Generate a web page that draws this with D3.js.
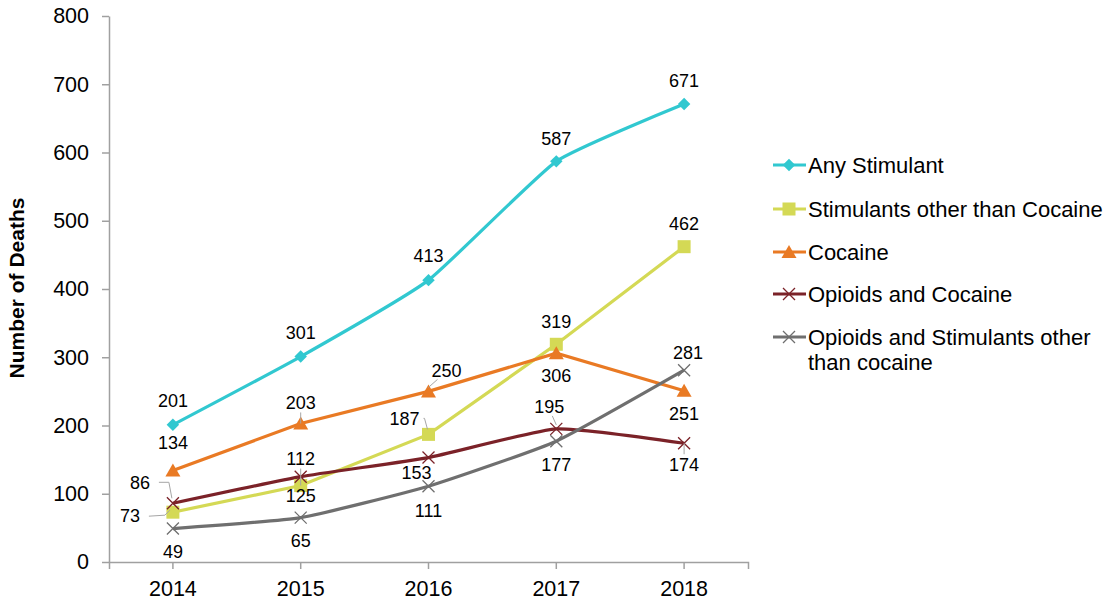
<!DOCTYPE html>
<html lang="en">
	<head>
		<meta charset="utf-8">
		<title>Stimulant deaths 2014-2018</title>
		<script type="text/javascript" src="https://d3js.org/d3.v7.min.js"></script>
		<style type="text/css">
			body { margin: 0; background: #fff; }
			svg text { font-family: "Liberation Sans", Arial, sans-serif; fill: #000; }
		</style>
	</head>
	<body>
		<script type="text/javascript">

			// data
			var years = ["2014", "2015", "2016", "2017", "2018"];
			var yTicks = [0, 100, 200, 300, 400, 500, 600, 700, 800];
			var seriesNames = ["Any Stimulant", "Stimulants other than Cocaine", "Cocaine",
				"Opioids and Cocaine", "Opioids and Stimulants other than cocaine"];
			var anyStimulant = [201, 301, 413, 587, 671];
			var stimNotCocaine = [73, 112, 187, 319, 462];
			var cocaine = [134, 203, 250, 306, 251];
			var opioidsCocaine = [86, 125, 153, 195, 174];
			var opioidsStimNotCocaine = [49, 65, 111, 177, 281];

			var w = 1110;
			var h = 601;

			// label placement (text centre offset from point) + optional leader
			var labelPos = [
				[[0,-24],[0,-24],[0,-24],[0,-23],[0,-23]],
				[[-43,4,"l"],[0,-27,"v"],[-24,-16,"e"],[0,-23],[0,-23]],
				[[0,-28],[0,-21,"v"],[18,-21,"d"],[0,23],[0,23]],
				[[-33,-21,"e"],[0,19],[-12,15],[-7,-22,"d"],[0,21,"v"]],
				[[0,23],[0,23],[0,24],[0,24],[4,-18]]
			];

			var colors = ["#31c8d0", "#d4d955", "#e97a24", "#7b2228", "#6f6f6f"];
			var markers = ["diamond", "square", "triangle", "x", "x"];
			var smooth = [true, false, false, true, true];

			var allValues = [anyStimulant, stimNotCocaine, cocaine, opioidsCocaine, opioidsStimNotCocaine];
			var series = seriesNames.map(function(n, i) {
				return { name: n, values: allValues[i], color: colors[i], marker: markers[i], smooth: smooth[i], labels: labelPos[i] };
			});

			var svg = d3.select("body").append("svg")
				.attr("width", w)
				.attr("height", h);

			var x = d3.scaleBand().domain(years).range([109, 748]);
			var y = d3.scaleLinear().domain([0, 800]).range([562, 16]);
			function cx(i) { return x(years[i]) + x.bandwidth() / 2; }

			// axes
			var yAxis = d3.axisLeft(y).tickValues(yTicks).tickSize(7).tickSizeOuter(0).tickPadding(13);
			var gy = svg.append("g").attr("transform", "translate(109,0)").call(yAxis);
			var xAxis = d3.axisBottom(x).tickSize(7).tickSizeOuter(7).tickPadding(12);
			var gx = svg.append("g").attr("transform", "translate(0,562)").call(xAxis);
			[gx, gy].forEach(function(g) {
				g.select(".domain").attr("stroke", "#a0a0a0").attr("stroke-width", 1.5);
				g.selectAll(".tick line").attr("stroke", "#a0a0a0").attr("stroke-width", 1.5);
				g.selectAll(".tick text").style("font-size", "21.5px").attr("fill", "#000");
			});

			svg.append("text")
				.attr("transform", "translate(24,288) rotate(-90)")
				.attr("text-anchor", "middle")
				.style("font-size", "21px")
				.style("font-weight", "bold")
				.text("Number of Deaths");

			function drawMarker(g, type, color, px, py) {
				if (type == "diamond") {
					g.append("path").attr("d", d3.symbol(d3.symbolSquare, 78)())
						.attr("transform", "translate(" + px + "," + py + ") rotate(45)")
						.attr("fill", color);
				} else if (type == "square") {
					g.append("rect").attr("x", px - 6.5).attr("y", py - 6.5)
						.attr("width", 13).attr("height", 13).attr("fill", color);
				} else if (type == "triangle") {
					g.append("path").attr("d", "M0,-7L7.5,6L-7.5,6Z")
						.attr("transform", "translate(" + px + "," + py + ")")
						.attr("fill", color);
				} else {
					g.append("path").attr("d", "M-6,-6L6,6M-6,6L6,-6")
						.attr("transform", "translate(" + px + "," + py + ")")
						.attr("stroke", color).attr("stroke-width", 1.3).attr("fill", "none");
				}
			}

			// lines
			series.forEach(function(s) {
				var line = d3.line()
					.x(function(d, i) { return cx(i); })
					.y(function(d) { return y(d); })
					.curve(s.smooth ? d3.curveCardinal.tension(0.55) : d3.curveLinear);
				svg.append("path")
					.datum(s.values)
					.attr("d", line)
					.attr("fill", "none")
					.attr("stroke", s.color)
					.attr("stroke-width", 3.2);
			});

			// markers
			series.forEach(function(s) {
				var g = svg.append("g");
				s.values.forEach(function(v, i) {
					drawMarker(g, s.marker, s.color, cx(i), y(v));
				});
			});

			// data labels + leader lines
			series.forEach(function(s) {
				s.values.forEach(function(v, i) {
					var px = cx(i), py = y(v);
					var p = s.labels[i];
					var tx = px + p[0], ty = py + p[1];
					var lead = p[2];
					var d = null;
					if (lead == "l") d = "M" + (tx + 19) + "," + ty + "L" + (px - 8) + "," + (ty - 1) + "L" + (px - 3) + "," + (py - 2);
					if (lead == "e") d = "M" + (tx + 19) + "," + ty + "L" + (px - 4) + "," + ty + "L" + (px - 1) + "," + (py - 5);
					if (lead == "v") d = "M" + px + "," + (ty + (p[1] < 0 ? 10 : -10)) + "L" + px + "," + py;
					if (lead == "d") d = "M" + (tx + (p[0] > 0 ? -9 : 3)) + "," + (ty + 9) + "L" + px + "," + (py - 4);
					if (d) svg.append("path").attr("d", d).attr("fill", "none")
						.attr("stroke", "#a6a6a6").attr("stroke-width", 1);
					svg.append("text")
						.attr("x", tx).attr("y", ty)
						.attr("dy", "0.35em")
						.attr("text-anchor", "middle")
						.style("font-size", "18px")
						.text(v);
				});
			});

			// legend
			var legendY = [165, 209, 252, 294, 337];
			series.forEach(function(s, i) {
				var g = svg.append("g").attr("transform", "translate(0," + legendY[i] + ")");
				g.append("line").attr("x1", 773).attr("x2", 806).attr("y1", 0).attr("y2", 0)
					.attr("stroke", s.color).attr("stroke-width", 3.2);
				drawMarker(g, s.marker, s.color, 789, 0);
				var t = g.append("text").attr("x", 808).attr("y", 7.5).style("font-size", "22px");
				if (i == 4) {
					t.append("tspan").attr("x", 808).text("Opioids and Stimulants other");
					t.append("tspan").attr("x", 808).attr("dy", 25).text("than cocaine");
				} else {
					t.text(s.name);
				}
			});

		</script>
	</body>
</html>
